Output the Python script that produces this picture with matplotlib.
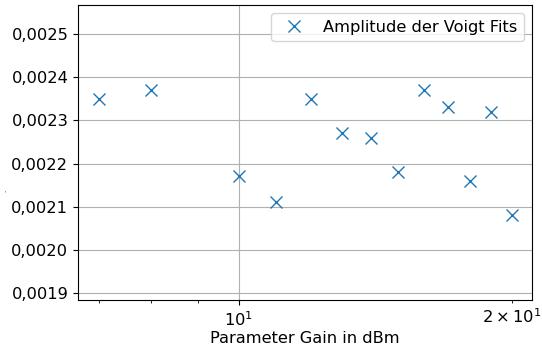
import matplotlib
matplotlib.use("Agg")
import matplotlib.pyplot as plt
from matplotlib.ticker import FuncFormatter

# Gain values (dBm) and fitted amplitudes
gain = [7, 8, 10, 11, 12, 13, 14, 15, 16, 17, 18, 19, 20]
amplitude = [0.00235, 0.00237, 0.00217, 0.00211, 0.00235, 0.00227, 0.00226,
             0.00218, 0.00237, 0.00233, 0.00216, 0.00232, 0.00208]

plt.rcParams['font.size'] = 11.7

fig, ax = plt.subplots(figsize=(5.42, 3.51), dpi=100)
ax.plot(gain, amplitude, 'x', markersize=9, label='Amplitude der Voigt Fits')
ax.set_xscale('log')
ax.set_ylim(0.001884, 0.002567)
ax.yaxis.set_major_formatter(FuncFormatter(lambda v, p: f'{v:.4f}'.replace('.', ',')))
ax.grid(True)
ax.set_xlabel('Parameter Gain in dBm', labelpad=2)
ax.set_ylabel('.', fontsize=5)
ax.yaxis.set_label_coords(-0.155, 0.37)
ax.legend(loc='upper right')
fig.subplots_adjust(left=0.144, right=0.982, top=0.986, bottom=0.145)
fig.savefig('out.png')
